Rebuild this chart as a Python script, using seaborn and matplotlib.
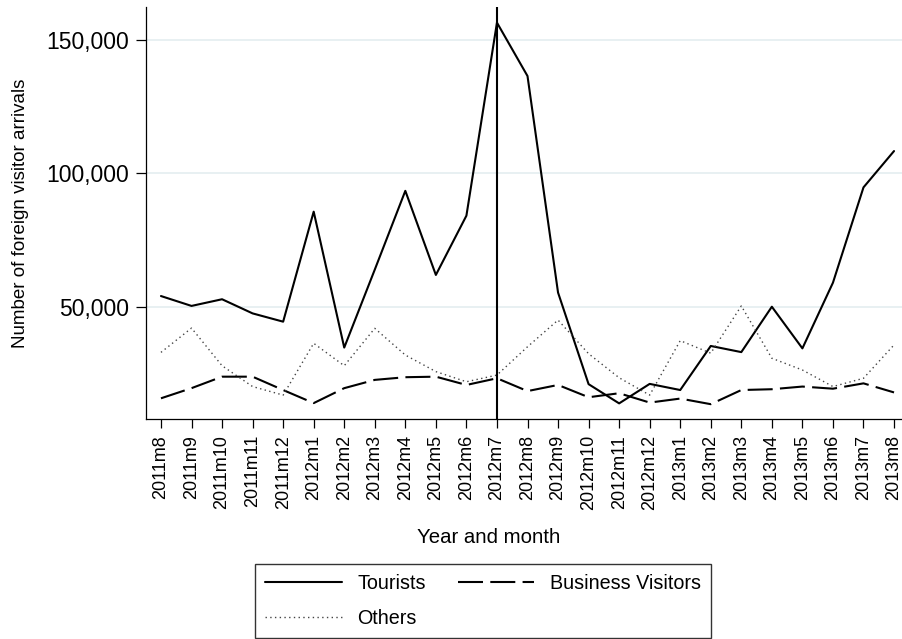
import matplotlib
matplotlib.use("Agg")
import matplotlib.pyplot as plt
import matplotlib.ticker as mticker
import pandas as pd
import seaborn as sns

months = [
    "2011m8", "2011m9", "2011m10", "2011m11", "2011m12",
    "2012m1", "2012m2", "2012m3", "2012m4", "2012m5", "2012m6", "2012m7",
    "2012m8", "2012m9", "2012m10", "2012m11", "2012m12",
    "2013m1", "2013m2", "2013m3", "2013m4", "2013m5", "2013m6", "2013m7", "2013m8",
]
tourists = [
    54100, 50400, 52900, 47600, 44500,
    85700, 34800, 64000, 93500, 62000, 84200, 156500,
    136500, 55400, 21100, 13900, 21200,
    18900, 35400, 33100, 50100, 34500, 59100, 94800, 108400,
]
business = [
    15800, 19600, 23900, 23900, 18900,
    14000, 19600, 22700, 23700, 23900, 20800, 23300,
    18500, 20800, 16200, 17700, 14200,
    15700, 13600, 18900, 19200, 20200, 19400, 21400, 18000,
]
others = [
    33000, 42100, 28000, 20200, 17000,
    36400, 28000, 42000, 32000, 25800, 22000, 24500,
    35100, 45100, 32500, 23500, 17000,
    37400, 32700, 50400, 30800, 26400, 20200, 23300, 35800,
]
event_month = "2012m7"

df = pd.DataFrame({"month": months, "Tourists": tourists,
                   "Business Visitors": business, "Others": others})

sns.set_theme(style="white")
plt.rcParams["font.family"] = ["Liberation Sans", "DejaVu Sans"]
plt.rcParams["text.color"] = "black"

fig = plt.figure(figsize=(9.02, 6.39), dpi=100)
ax = fig.add_axes([146 / 902, 220 / 639, 763 / 902, 412 / 639])

sns.lineplot(data=df, x="month", y="Tourists", ax=ax, color="black",
             lw=1.5, label="Tourists", sort=False)
sns.lineplot(data=df, x="month", y="Business Visitors", ax=ax, color="black",
             lw=1.5, linestyle=(0, (12, 3.5)), label="Business Visitors", sort=False)
sns.lineplot(data=df, x="month", y="Others", ax=ax, color="#444444",
             lw=1.0, linestyle=(0, (1, 2.4)), label="Others", sort=False)

ax.axvline(months.index(event_month), color="black", lw=1.5)

ax.set_xlim(-0.49, len(months) - 1 + 0.49)
ax.set_ylim(8050, 162350)
ax.set_yticks([50000, 100000, 150000])
ax.yaxis.set_major_formatter(mticker.StrMethodFormatter("{x:,.0f}"))
ax.yaxis.grid(True, color="#e6eff1", lw=1.3)
ax.set_axisbelow(True)

for side in ["top", "right"]:
    ax.spines[side].set_visible(False)
for side in ["left", "bottom"]:
    ax.spines[side].set_color("black")
    ax.spines[side].set_linewidth(0.9)

ax.tick_params(axis="y", which="major", left=True, length=7.5, width=0.9,
               pad=5, labelsize=16.5, colors="black")
ax.tick_params(axis="x", which="major", bottom=True, length=6.5, width=0.9,
               pad=5, labelsize=13, labelrotation=90, colors="black")

ax.set_ylabel("Number of foreign visitor arrivals", fontsize=13.5, color="black")
ax.yaxis.set_label_coords(-0.153, 0.5)
ax.set_xlabel("Year and month", fontsize=14.7, color="black")
ax.xaxis.set_label_coords(0.4495, -0.265)

# legend fills column-first, so order it to get Tourists / Business on row 1
handles, labels = ax.get_legend_handles_labels()
order = [labels.index(k) for k in ["Tourists", "Others", "Business Visitors"]]
leg = ax.legend([handles[i] for i in order], [labels[i] for i in order],
                loc="upper center", bbox_to_anchor=(483 / 902, 1 - 564 / 639),
                bbox_transform=fig.transFigure, borderaxespad=0, ncol=2,
                fontsize=14.2, frameon=True, fancybox=False, edgecolor="black",
                handlelength=3.9, handletextpad=0.8, columnspacing=1.6,
                borderpad=0.5, labelspacing=0.8)
leg.get_frame().set_linewidth(1.0)

fig.savefig("out.png", dpi=100)
